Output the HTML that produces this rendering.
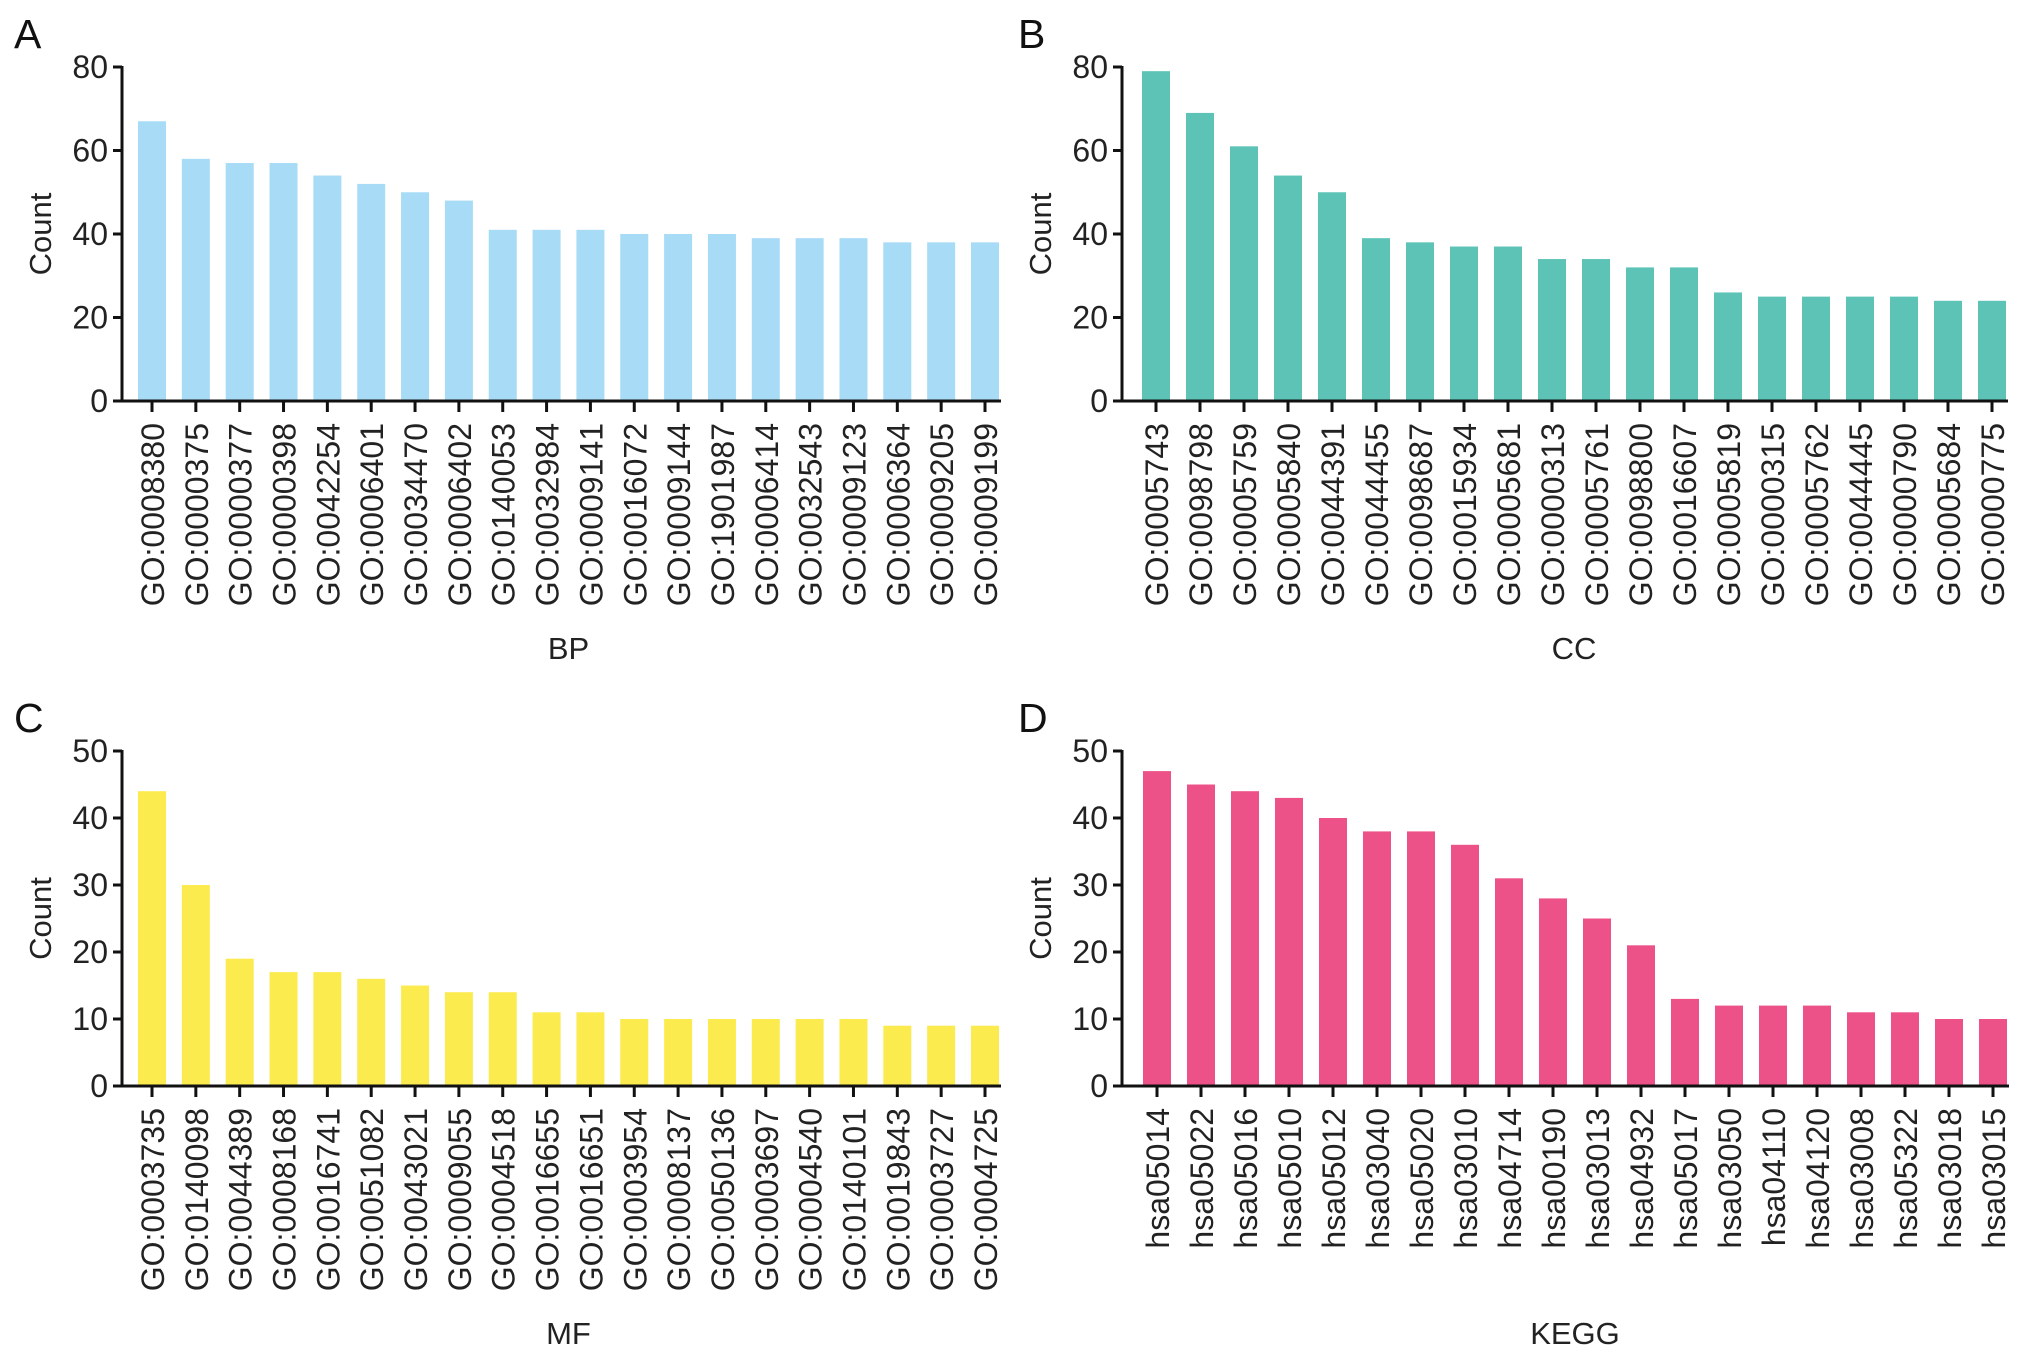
<!DOCTYPE html>
<html><head><meta charset="utf-8">
<style>
html,body{margin:0;padding:0;background:#fff;}
svg{display:block;font-family:"Liberation Sans",Arial,sans-serif;}
</style></head>
<body>
<svg id="fig" width="2032" height="1354" viewBox="0 0 2032 1354" xmlns="http://www.w3.org/2000/svg"></svg>
<script>
const bpLabels = ["GO:0008380","GO:0000375","GO:0000377","GO:0000398","GO:0042254","GO:0006401","GO:0034470","GO:0006402","GO:0140053","GO:0032984","GO:0009141","GO:0016072","GO:0009144","GO:1901987","GO:0006414","GO:0032543","GO:0009123","GO:0006364","GO:0009205","GO:0009199"];
const bpValues = [67,58,57,57,54,52,50,48,41,41,41,40,40,40,39,39,39,38,38,38];
const ccLabels = ["GO:0005743","GO:0098798","GO:0005759","GO:0005840","GO:0044391","GO:0044455","GO:0098687","GO:0015934","GO:0005681","GO:0000313","GO:0005761","GO:0098800","GO:0016607","GO:0005819","GO:0000315","GO:0005762","GO:0044445","GO:0000790","GO:0005684","GO:0000775"];
const ccValues = [79,69,61,54,50,39,38,37,37,34,34,32,32,26,25,25,25,25,24,24];
const mfLabels = ["GO:0003735","GO:0140098","GO:0044389","GO:0008168","GO:0016741","GO:0051082","GO:0043021","GO:0009055","GO:0004518","GO:0016655","GO:0016651","GO:0003954","GO:0008137","GO:0050136","GO:0003697","GO:0004540","GO:0140101","GO:0019843","GO:0003727","GO:0004725"];
const mfValues = [44,30,19,17,17,16,15,14,14,11,11,10,10,10,10,10,10,9,9,9];
const keggLabels = ["hsa05014","hsa05022","hsa05016","hsa05010","hsa05012","hsa03040","hsa05020","hsa03010","hsa04714","hsa00190","hsa03013","hsa04932","hsa05017","hsa03050","hsa04110","hsa04120","hsa03008","hsa05322","hsa03018","hsa03015"];
const keggValues = [47,45,44,43,40,38,38,36,31,28,25,21,13,12,12,12,11,11,10,10];
const yTicks80 = [0,20,40,60,80];
const yTicks50 = [0,10,20,30,40,50];

const NS = "http://www.w3.org/2000/svg";
const svg = document.getElementById("fig");
function mk(tag, attrs, parent){
  const e = document.createElementNS(NS, tag);
  for (const k in attrs) e.setAttribute(k, attrs[k]);
  (parent||svg).appendChild(e);
  return e;
}

function panel(id, letter, title, labels, values, ticks, ymax, color, ax, top, bottom, firstX, lastX, lx){
  const g = mk("g", {});
  
  
  const y = v => bottom - (v / ymax) * (bottom - top);
  const n = labels.length;
  const step = (lastX - firstX) / (n - 1);
  const xc = i => firstX + i * step;
  const bw = 28;
  const L = mk("text", {x: lx, y: top - 19, "font-size": 41, fill: "#111"}, g);
  L.textContent = letter;
  
  
  values.forEach((v, i) => {
    const r = mk("rect", {x: xc(i) - bw/2, y: y(v), width: bw, height: bottom - y(v), fill: color}, g);
    
    
  });
  const ya = mk("line", {x1: ax, y1: top - 1, x2: ax, y2: bottom + 1.5, stroke: "#111", "stroke-width": 3}, g);
  
  
  ticks.forEach(t => {
    mk("line", {x1: ax - 9, y1: y(t), x2: ax, y2: y(t), stroke: "#111", "stroke-width": 3}, g);
    const tx = mk("text", {x: ax - 14, y: y(t) + 11, "font-size": 32, "text-anchor": "end", fill: "#222"}, g);
    tx.textContent = t;
    
    
  });
  const xa = mk("line", {x1: ax - 9, y1: bottom, x2: lastX + bw/2 + 2, y2: bottom, stroke: "#111", "stroke-width": 3}, g);
  
  
  labels.forEach((lab, i) => {
    mk("line", {x1: xc(i), y1: bottom, x2: xc(i), y2: bottom + 11, stroke: "#111", "stroke-width": 3}, g);
    const t = mk("text", {x: 0, y: 0, "font-size": 32, "text-anchor": "end", fill: "#222",
      transform: "translate(" + (xc(i) + 12) + "," + (bottom + 22) + ") rotate(-90)"}, g);
    t.textContent = lab;
    
    
  });
  const yt = mk("text", {x: 0, y: 0, "font-size": 31, "text-anchor": "middle", fill: "#222",
    transform: "translate(" + (ax - 71) + "," + ((top + bottom)/2) + ") rotate(-90)"}, g);
  yt.textContent = "Count";
  
  
  const xt = mk("text", {x: (firstX + lastX)/2, y: bottom + 258, "font-size": 31, "text-anchor": "middle", fill: "#222"}, g);
  xt.textContent = title;
  
  
}

panel("a", "A", "BP", bpLabels, bpValues, yTicks80, 80, "#a7dbf6", 122, 67, 401, 152, 985, 14);
panel("b", "B", "CC", ccLabels, ccValues, yTicks80, 80, "#5cc3b6", 1122, 67, 401, 1156, 1992, 1018);
panel("c", "C", "MF", mfLabels, mfValues, yTicks50, 50, "#fbeb4f", 122, 751, 1086, 152, 985, 14);
panel("d", "D", "KEGG", keggLabels, keggValues, yTicks50, 50, "#ec5288", 1122, 751, 1086, 1157, 1993, 1018);
</script>
</body></html>
